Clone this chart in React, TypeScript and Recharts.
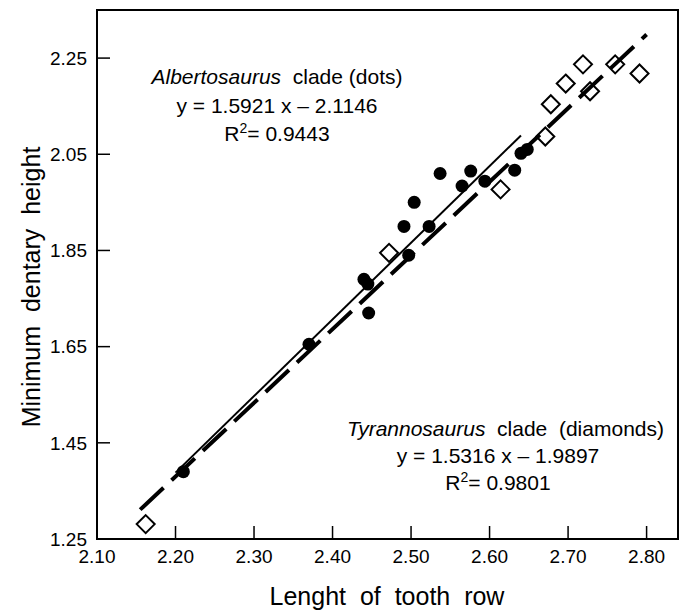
import React from 'react'
import { ScatterChart, Scatter, XAxis, YAxis, ReferenceArea } from 'recharts'

// values
const xTicks = [2.1, 2.2, 2.3, 2.4, 2.5, 2.6, 2.7, 2.8]
const yTicks = [1.25, 1.45, 1.65, 1.85, 2.05, 2.25]

// Albertosaurus clade (filled dots)
const albertoDots = [
  { x: 2.21, y: 1.39 },
  { x: 2.37, y: 1.655 },
  { x: 2.44, y: 1.79 },
  { x: 2.445, y: 1.78 },
  { x: 2.446, y: 1.72 },
  { x: 2.491, y: 1.9 },
  { x: 2.497, y: 1.84 },
  { x: 2.504, y: 1.95 },
  { x: 2.523, y: 1.9 },
  { x: 2.537, y: 2.01 },
  { x: 2.565, y: 1.984 },
  { x: 2.576, y: 2.015 },
  { x: 2.594, y: 1.994 },
  { x: 2.632, y: 2.017 },
  { x: 2.64, y: 2.052 },
  { x: 2.648, y: 2.06 },
]

// Tyrannosaurus clade (open diamonds)
const tyrannoDiamonds = [
  { x: 2.162, y: 1.281 },
  { x: 2.472, y: 1.845 },
  { x: 2.614, y: 1.977 },
  { x: 2.671, y: 2.087 },
  { x: 2.678, y: 2.154 },
  { x: 2.697, y: 2.197 },
  { x: 2.719, y: 2.237 },
  { x: 2.728, y: 2.181 },
  { x: 2.76, y: 2.237 },
  { x: 2.791, y: 2.218 },
]

// trend line end points
const albertoLine = [
  { x: 2.2, y: 1.388 },
  { x: 2.64, y: 2.089 },
]
const tyrannoLine = [
  { x: 2.155, y: 1.311 },
  { x: 2.8, y: 2.299 },
]

const FONT = '"Liberation Sans", Arial, sans-serif'

const Dot = (props: any) => <circle cx={props.cx} cy={props.cy} r={6.5} fill="#000" />

const Diamond = (props: any) => {
  const { cx, cy } = props
  const r = 9
  return (
    <path
      d={`M${cx},${cy - r}L${cx + r},${cy}L${cx},${cy + r}L${cx - r},${cy}Z`}
      fill="#fff"
      stroke="#000"
      strokeWidth={2}
    />
  )
}

const NoMark = () => <g />

export default function App() {
  return (
    <div style={{ position: 'relative', width: 687, height: 612, fontFamily: FONT }}>
      <style>{`body { margin: 0; }`}</style>
      <ScatterChart width={687} height={612} margin={{ top: 10, right: 9, bottom: 0, left: 0 }}>
        <XAxis
          type="number"
          dataKey="x"
          domain={[2.1, 2.84]}
          ticks={xTicks}
          allowDataOverflow
          height={73}
          tickSize={-13}
          tickMargin={24}
          tickFormatter={(v: number) => v.toFixed(2)}
          tick={{ fill: '#000', fontSize: 19, fontFamily: FONT }}
          axisLine={{ stroke: '#000', strokeWidth: 2 }}
          tickLine={{ stroke: '#000', strokeWidth: 1.5 }}
        />
        <YAxis
          type="number"
          dataKey="y"
          domain={[1.25, 2.35]}
          ticks={yTicks}
          allowDataOverflow
          width={97}
          tickSize={-13}
          tickMargin={23}
          tickFormatter={(v: number) => v.toFixed(2)}
          tick={{ fill: '#000', fontSize: 19, fontFamily: FONT }}
          axisLine={{ stroke: '#000', strokeWidth: 2 }}
          tickLine={{ stroke: '#000', strokeWidth: 1.5 }}
        />
        <ReferenceArea x1={2.1} x2={2.84} y1={1.25} y2={2.35} fill="none" stroke="#000" strokeWidth={2} />
        <Scatter data={tyrannoDiamonds} shape={Diamond} isAnimationActive={false} />
        <Scatter
          data={tyrannoLine}
          shape={NoMark}
          line={{ stroke: '#000', strokeWidth: 4, strokeDasharray: '32 11' }}
          lineType="joint"
          isAnimationActive={false}
        />
        <Scatter
          data={albertoLine}
          shape={NoMark}
          line={{ stroke: '#000', strokeWidth: 2 }}
          lineType="joint"
          isAnimationActive={false}
        />
        <Scatter data={albertoDots} shape={Dot} isAnimationActive={false} />
      </ScatterChart>

      <svg
        width={687}
        height={612}
        style={{ position: 'absolute', left: 0, top: 0, pointerEvents: 'none' }}
        fontFamily={FONT}
        xmlSpace="preserve"
      >
        <g fontSize={21} fill="#000" textAnchor="middle">
          <text x={277} y={84} xmlSpace="preserve">
            <tspan fontStyle="italic">Albertosaurus</tspan>
            <tspan>{'  clade (dots)'}</tspan>
          </text>
          <text x={277} y={113}>y = 1.5921 x – 2.1146</text>
          <text x={277} y={141}>
            <tspan>R</tspan>
            <tspan fontSize={14} dy={-8}>2</tspan>
            <tspan dy={8}>= 0.9443</tspan>
          </text>

          <text x={664} y={436} textAnchor="end" xmlSpace="preserve">
            <tspan fontStyle="italic">Tyrannosaurus</tspan>
            <tspan>{'  clade  (diamonds)'}</tspan>
          </text>
          <text x={498} y={463}>y = 1.5316 x – 1.9897</text>
          <text x={498} y={490}>
            <tspan>R</tspan>
            <tspan fontSize={14} dy={-8}>2</tspan>
            <tspan dy={8}>= 0.9801</tspan>
          </text>
        </g>
        <g fontSize={25} fill="#000" textAnchor="middle">
          <text x={387} y={605} xmlSpace="preserve">{'Lenght  of  tooth  row'}</text>
          <text x={0} y={0} transform="translate(40,287) rotate(-90)" xmlSpace="preserve">
            {'Minimum  dentary  height'}
          </text>
        </g>
      </svg>
    </div>
  )
}
